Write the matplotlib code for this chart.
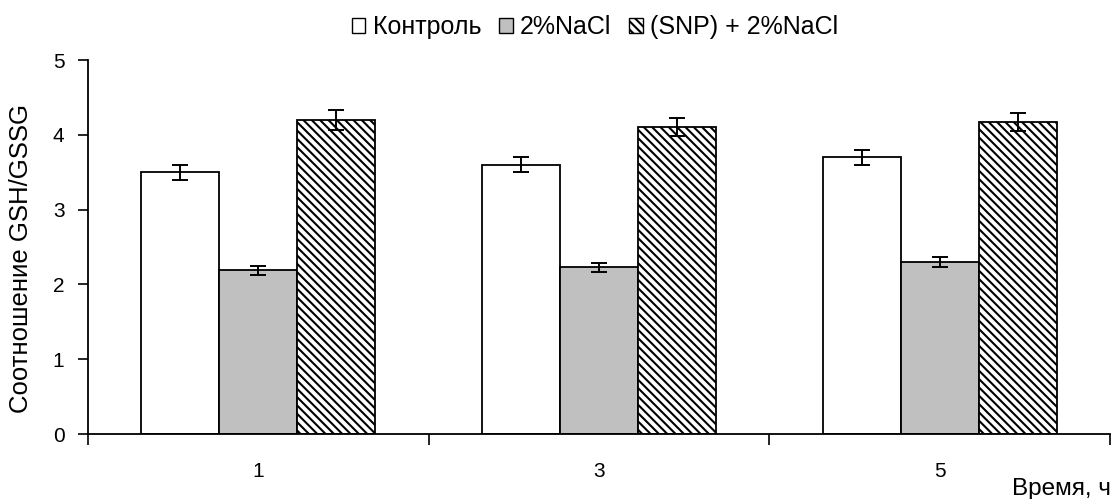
import matplotlib
matplotlib.use("Agg")
import matplotlib.pyplot as plt
import numpy as np
from matplotlib.patches import Patch

plt.rcParams['font.family'] = ['Liberation Sans', 'DejaVu Sans']
plt.rcParams['hatch.linewidth'] = 1.5

categories = ["1", "3", "5"]
series_names = ["Контроль", "2%NaCl", "(SNP) + 2%NaCl"]
control = [3.50, 3.60, 3.70]
nacl = [2.19, 2.23, 2.30]
snp_nacl = [4.20, 4.10, 4.17]
control_err = [0.10, 0.10, 0.10]
nacl_err = [0.06, 0.06, 0.07]
snp_err = [0.13, 0.12, 0.12]

fig = plt.figure(figsize=(11.14, 4.99), dpi=100)
ax = fig.add_axes([88/1114, 1-434/499, (1110-88)/1114, (434-60)/499])

x = np.arange(len(categories))
w = 0.229
styles = [dict(color="white", hatch=None), dict(color="#C0C0C0", hatch=None), dict(color="white", hatch="\\\\\\\\")]
vals = [control, nacl, snp_nacl]
errs = [control_err, nacl_err, snp_err]
for i, (v, e, st, name) in enumerate(zip(vals, errs, styles, series_names)):
    ax.bar(x + (i-1)*w, v, w, color=st["color"], edgecolor="black", linewidth=1.3,
           hatch=st["hatch"], label=name, zorder=2)
    ax.errorbar(x + (i-1)*w, v, yerr=e, fmt="none", ecolor="black", elinewidth=1.4,
                capsize=5.5, capthick=1.4, zorder=3)

ax.set_xlim(-0.5, 2.5)
ax.set_ylim(0, 5)
ax.set_yticks([0, 1, 2, 3, 4, 5])
ax.set_xticks(x)
ax.set_xticklabels(categories)
ax.set_xticks([-0.5, 0.5, 1.5, 2.5], minor=True)
ax.tick_params(axis="x", which="major", length=0, pad=20, labelsize=15)
ax.tick_params(axis="x", which="minor", length=8, width=1.2, direction="out")
ax.tick_params(axis="y", length=7, width=1.2, direction="out", labelsize=15, pad=10)
for s in ["top", "right"]:
    ax.spines[s].set_visible(False)
for s in ["left", "bottom"]:
    ax.spines[s].set_linewidth(1.3)

ax.set_ylabel("Соотношение GSH/GSSG", fontsize=18.5, va="center")
ax.yaxis.set_label_coords(-0.0655, 0.47)
fig.text(0.997, 1-478/499, "Время, ч", ha="right", va="top", fontsize=17.5)

handles = [Patch(facecolor="white", edgecolor="black", linewidth=1.0),
           Patch(facecolor="#C0C0C0", edgecolor="black", linewidth=1.0),
           Patch(facecolor="white", edgecolor="black", linewidth=1.0, hatch="\\\\\\\\")]
fig.legend(handles, series_names, loc="center", bbox_to_anchor=(0.534, 0.946), ncol=3,
           frameon=False, fontsize=18, handlelength=0.55, handleheight=0.55,
           handletextpad=0.3, columnspacing=0.7)

fig.savefig("out.png", dpi=100)
